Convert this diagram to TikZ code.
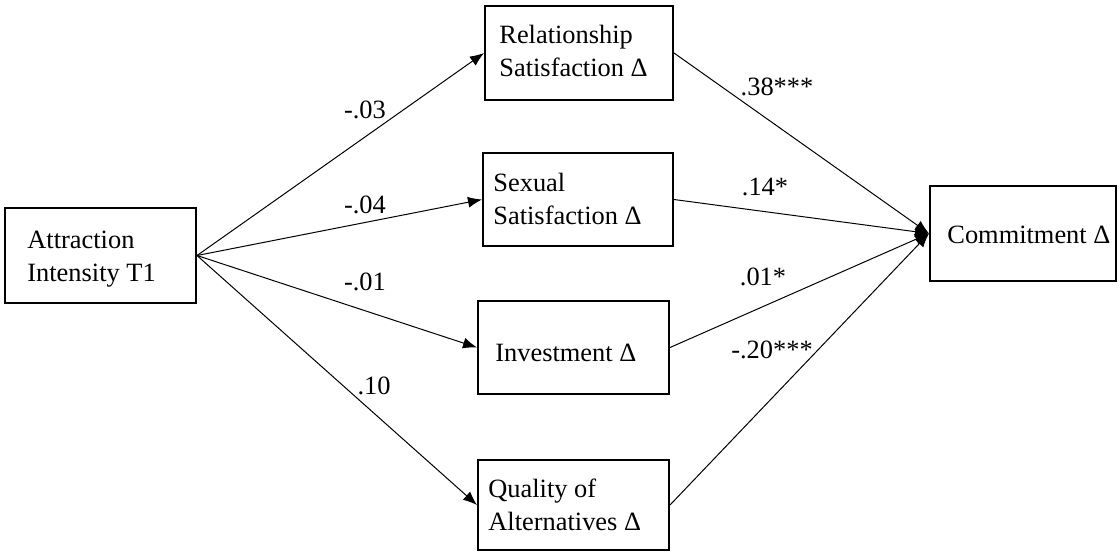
\documentclass[tikz,border=0pt]{standalone}
\usepackage{fontspec}
\setmainfont{Liberation Serif}
\usetikzlibrary{arrows.meta}
\begin{document}
\begin{tikzpicture}[x=0.5pt,y=-0.5pt,
  box/.style={draw, line width=1pt, inner sep=0pt, rectangle},
  txt/.style={inner sep=0pt, anchor=west, align=left, font=\fontsize{13.2}{16.5}\selectfont},
  coef/.style={inner sep=0pt, font=\fontsize{13.2}{16.5}\selectfont},
  path/.style={line width=0.5pt, -{Latex[length=7pt,width=5.5pt]}}]
\useasboundingbox (0,0) rectangle (1120,554);
% boxes
\node[box, minimum width=95.5pt, minimum height=47.5pt] (att) at (100.5,255.5) {};
\node[box, minimum width=94pt, minimum height=47pt] (rel) at (579,53) {};
\node[box, minimum width=95pt, minimum height=46.5pt] (sex) at (578,199.5) {};
\node[box, minimum width=95.5pt, minimum height=46.5pt] (inv) at (573.5,347.5) {};
\node[box, minimum width=95.5pt, minimum height=45pt] (qua) at (573.5,505) {};
\node[box, minimum width=93pt, minimum height=47.5pt] (com) at (1023,233.5) {};
% box texts
\node[txt] (att-t) at (27,259) {Attraction\\Intensity T1};
\node[txt] (rel-t) at (499,51) {Relationship\\Satisfaction Δ};
\node[txt] (sex-t) at (493,199) {Sexual\\Satisfaction Δ};
\node[txt] (inv-t) at (495,353) {Investment Δ};
\node[txt] (qua-t) at (488,505) {Quality of\\Alternatives Δ};
\node[txt] (com-t) at (947,235) {Commitment Δ};
% connectors
\draw[path] (att.east) -- (rel.west);
\draw[path] (att.east) -- (sex.west);
\draw[path] (att.east) -- (inv.west);
\draw[path] (att.east) -- (qua.west);
\draw[path] (rel.east) -- (com.west);
\draw[path] (sex.east) -- (com.west);
\draw[path] (inv.east) -- (com.west);
\draw[path] (qua.east) -- (com.west);
% coefficients
\node[coef] (c1) at (365,110) {-.03};
\node[coef] (c2) at (365,205) {-.04};
\node[coef] (c3) at (365,282) {-.01};
\node[coef] (c4) at (374,386) {.10};
\node[coef] (c5) at (777,87) {.38***};
\node[coef] (c6) at (765,187) {.14*};
\node[coef] (c7) at (763,277) {.01*};
\node[coef] (c8) at (772,350) {-.20***};
\end{tikzpicture}
\end{document}
